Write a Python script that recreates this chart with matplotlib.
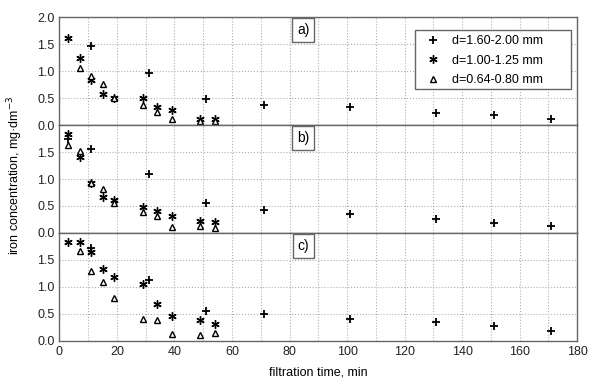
import matplotlib

matplotlib.use("Agg")
import matplotlib.pyplot as plt
from matplotlib.patches import Rectangle

plt.rcParams["font.family"] = ["Liberation Sans", "DejaVu Sans"]

# filtration times, min
t_plus_a = [11, 31, 51, 71, 101, 131, 151, 171]
t_plus_bc = [3, 11, 31, 51, 71, 101, 131, 151, 171]
t_star = [3, 7, 11, 15, 19, 29, 34, 39, 49, 54]
t_tri = [7, 11, 15, 19, 29, 34, 39, 49, 54]
t_tri_b = [3, 7, 11, 15, 19, 29, 34, 39, 49, 54]

# a) iron concentration, mg/dm3
a_plus = [1.47, 0.97, 0.48, 0.38, 0.33, 0.23, 0.19, 0.11]
a_star = [1.62, 1.25, 0.83, 0.57, 0.50, 0.51, 0.34, 0.27, 0.12, 0.12]
a_tri = [1.05, 0.91, 0.77, 0.50, 0.37, 0.25, 0.11, 0.07, 0.08]

# b)
b_plus = [1.75, 1.55, 1.10, 0.56, 0.43, 0.35, 0.25, 0.18, 0.13]
b_star = [1.83, 1.41, 0.92, 0.67, 0.62, 0.48, 0.41, 0.32, 0.23, 0.21]
b_tri = [1.63, 1.51, 0.92, 0.81, 0.56, 0.38, 0.32, 0.11, 0.12, 0.09]

# c)
c_plus = [None, 1.72, 1.12, 0.56, 0.50, 0.40, 0.35, 0.28, 0.19]
c_star = [1.84, 1.83, 1.64, 1.33, 1.19, 1.05, 0.69, 0.46, 0.38, 0.31]
c_tri = [1.67, 1.30, 1.09, 0.80, 0.40, 0.39, 0.13, 0.11, 0.14]

labels = ["d=1.60-2.00 mm", "d=1.00-1.25 mm", "d=0.64-0.80 mm"]

star = (6, 2, 0)

fig, axes = plt.subplots(3, 1, figsize=(6, 3.9), dpi=100, sharex=True)
fig.subplots_adjust(left=0.099, right=0.962, top=0.956, bottom=0.126, hspace=0)

panels = [
    ("a)", t_plus_a, a_plus, t_star, a_star, t_tri, a_tri),
    ("b)", t_plus_bc, b_plus, t_star, b_star, t_tri_b, b_tri),
    ("c)", t_plus_bc, c_plus, t_star, c_star, t_tri, c_tri),
]

for i, (ax, (tag, tp, yp, ts, ys, tt, yt)) in enumerate(zip(axes, panels)):
    tp2 = [t for t, v in zip(tp, yp) if v is not None]
    yp2 = [v for v in yp if v is not None]
    h1, = ax.plot(tp2, yp2, ls="none", marker="+", ms=6, mew=1.3, color="black")
    h2, = ax.plot(ts, ys, ls="none", marker=star, ms=6, mew=1.0, color="black")
    h3, = ax.plot(tt, yt, ls="none", marker="^", ms=5, mew=1.0,
                  mfc="white", mec="black")
    ax.set_xlim(0, 180)
    ax.set_ylim(0, 2.0)
    ax.set_xticks(range(0, 181, 10), minor=True)
    ax.set_xticks(range(0, 181, 20))
    ax.set_yticks([0, 0.5, 1.0, 1.5, 2.0] if i == 0 else [0, 0.5, 1.0, 1.5])
    ax.set_yticklabels(["0.0", "0.5", "1.0", "1.5", "2.0"][:len(ax.get_yticks())])
    ax.grid(True, which="both", ls=":", color="#b0b0b0", lw=0.8)
    ax.tick_params(length=0, which="both", labelsize=9, colors="#222222")
    for s in ax.spines.values():
        s.set_color("#666666")
        s.set_linewidth(1.0)
    ax.text(0.471, 0.88, tag, transform=ax.transAxes, ha="center", va="center",
            fontsize=10,
            bbox=dict(boxstyle="square,pad=0.35", fc="white", ec="#666666", lw=1))
    if i == 0:
        ax.add_patch(Rectangle((0.687, 0.333), 0.301, 0.547, transform=ax.transAxes,
                               fc="white", ec="#666666", lw=1.0, zorder=4))
        leg = ax.legend([h1, h2, h3], labels, loc="upper left",
                        bbox_to_anchor=(0.687, 0.88), fontsize=9,
                        frameon=False, handlelength=2.0, handletextpad=0.55,
                        borderpad=0.4, labelspacing=0.6, borderaxespad=0)
        leg.set_zorder(5)

axes[-1].set_xlabel("filtration time, min", fontsize=9, labelpad=6)
fig.text(0.025, 0.55, "iron concentration, mg·dm$^{-3}$", rotation=90,
         ha="center", va="center", fontsize=9)

fig.savefig("out.png")
